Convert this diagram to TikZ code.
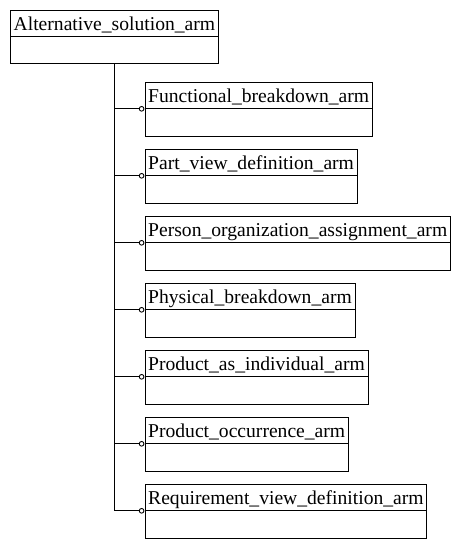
\documentclass[tikz,border=0pt]{standalone}
\usepackage{fontspec}
\setmainfont{Liberation Serif}
\usetikzlibrary{arrows.meta,fit}

\tikzset{
  arm/.style={draw, anchor=north west, inner xsep=3.2pt, inner ysep=0pt,
    text height=20pt, text depth=6.8pt, outer sep=0pt,
    font=\fontsize{19.6}{22}\selectfont},
  armbody/.style={draw, inner sep=0pt, outer sep=0pt},
  link/.style={-{Circle[open,length=5.6pt,width=5.6pt]}, shorten >=0.6pt},
}

\begin{document}
\begin{tikzpicture}[x=1pt, y=-1pt, line width=0.9pt]
  \useasboundingbox (0,0) rectangle (458,549);
  \node[arm] (alt) at (10.5,10) {Alternative\_solution\_arm};
  \coordinate (alt-e) at ([yshift=-27pt]alt.south east);
  \node[armbody, fit={(alt.south west) (alt-e)}] (alt-b) {};

  \node[arm] (fun) at (145,82) {Functional\_breakdown\_arm};
  \coordinate (fun-e) at ([yshift=-27.8pt]fun.south east);
  \node[armbody, fit={(fun.south west) (fun-e)}] (fun-b) {};
  \node[arm] (pvd) at (145,149) {Part\_view\_definition\_arm};
  \coordinate (pvd-e) at ([yshift=-27.8pt]pvd.south east);
  \node[armbody, fit={(pvd.south west) (pvd-e)}] (pvd-b) {};
  \node[arm] (poa) at (145,216) {Person\_organization\_assignment\_arm};
  \coordinate (poa-e) at ([yshift=-27.8pt]poa.south east);
  \node[armbody, fit={(poa.south west) (poa-e)}] (poa-b) {};
  \node[arm] (phy) at (145,283) {Physical\_breakdown\_arm};
  \coordinate (phy-e) at ([yshift=-27.8pt]phy.south east);
  \node[armbody, fit={(phy.south west) (phy-e)}] (phy-b) {};
  \node[arm] (pai) at (145,350) {Product\_as\_individual\_arm};
  \coordinate (pai-e) at ([yshift=-27.8pt]pai.south east);
  \node[armbody, fit={(pai.south west) (pai-e)}] (pai-b) {};
  \node[arm] (poc) at (145,417) {Product\_occurrence\_arm};
  \coordinate (poc-e) at ([yshift=-27.8pt]poc.south east);
  \node[armbody, fit={(poc.south west) (poc-e)}] (poc-b) {};
  \node[arm] (req) at (145,484) {Requirement\_view\_definition\_arm};
  \coordinate (req-e) at ([yshift=-27.8pt]req.south east);
  \node[armbody, fit={(req.south west) (req-e)}] (req-b) {};

  % trunk and links
  \draw (alt-b.south) -- (alt-b.south |- req.south west);
  \draw[link] (alt-b.south |- fun.south west) -- (fun.south west);
  \draw[link] (alt-b.south |- pvd.south west) -- (pvd.south west);
  \draw[link] (alt-b.south |- poa.south west) -- (poa.south west);
  \draw[link] (alt-b.south |- phy.south west) -- (phy.south west);
  \draw[link] (alt-b.south |- pai.south west) -- (pai.south west);
  \draw[link] (alt-b.south |- poc.south west) -- (poc.south west);
  \draw[link] (alt-b.south |- req.south west) -- (req.south west);
\end{tikzpicture}
\end{document}
